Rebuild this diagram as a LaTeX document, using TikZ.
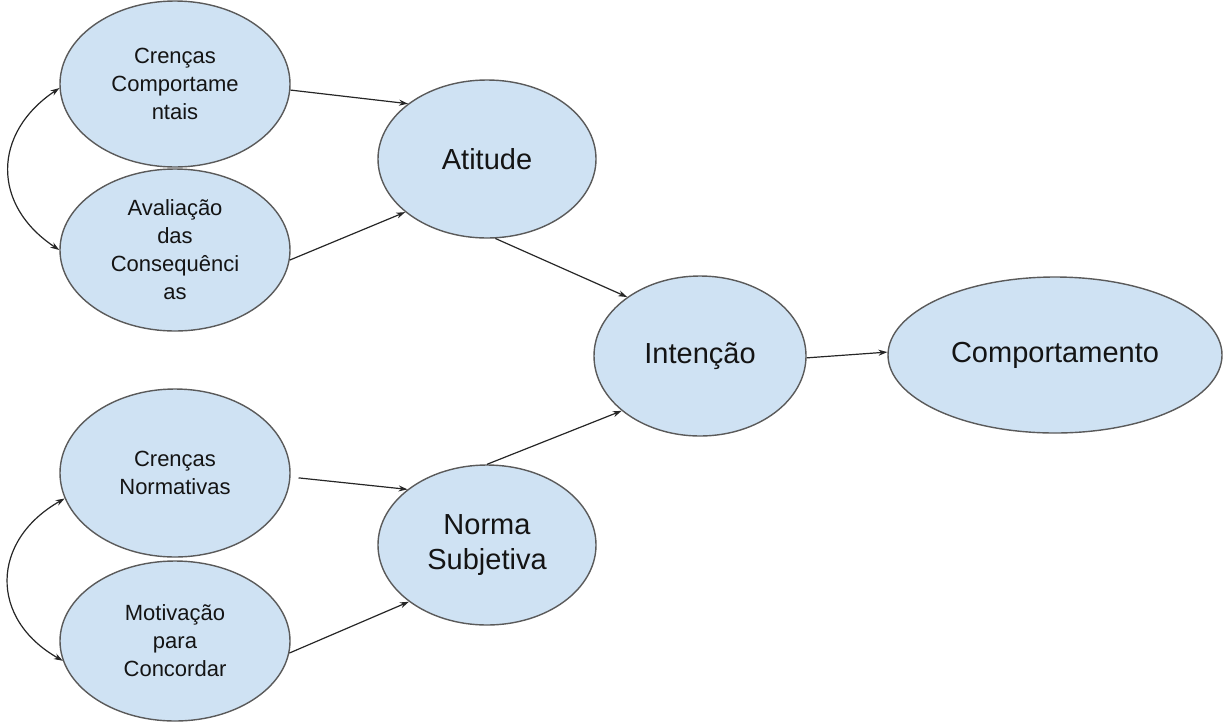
\documentclass[tikz,border=0pt]{standalone}
\usepackage{fontspec}
\setmainfont{Liberation Sans}
\usetikzlibrary{shapes.geometric,arrows.meta}
\definecolor{fillblue}{HTML}{CFE2F3}
\definecolor{edgegray}{HTML}{5A5A5A}
\definecolor{inkline}{HTML}{262626}
\begin{document}
\begin{tikzpicture}[x=1pt,y=-1pt,
  bubble/.style={ellipse, draw=edgegray, line width=1.4pt, fill=fillblue,
    inner sep=0pt, align=center, text=black!92},
  small/.style={bubble, font=\fontsize{22}{28}\selectfont},
  big/.style={bubble, font=\fontsize{29}{35}\selectfont},
  link/.style={draw=inkline, line width=1.2pt, -{Stealth[length=9pt,width=6pt]}},
  twoway/.style={draw=inkline, line width=1.2pt,
    {Stealth[length=9pt,width=6pt]}-{Stealth[length=9pt,width=6pt]}}
]
\useasboundingbox (0,0) rectangle (1225,721);

% belief and evaluation components
\node[small, minimum width=230pt, minimum height=166pt] (cc) at (175,84)
  {Crenças\\Comportame\\ntais};
\node[small, minimum width=230pt, minimum height=162pt] (ac) at (175,250)
  {Avaliação\\das\\Consequênci\\as};
\node[small, minimum width=230pt, minimum height=168pt] (cn) at (175,473)
  {Crenças\\Normativas};
\node[small, minimum width=230pt, minimum height=160pt] (mc) at (175,641)
  {Motivação\\para\\Concordar};

% constructs
\node[big, minimum width=218pt, minimum height=158pt] (at) at (487,159) {Atitude};
\node[big, minimum width=218pt, minimum height=160pt] (ns) at (487,545) {Norma\\Subjetiva};
\node[big, minimum width=212pt, minimum height=160pt] (in) at (700,356) {Intenção};
\node[big, minimum width=334pt, minimum height=156pt] (co) at (1055,355) {Comportamento};

% influences
\draw[link] (cc.-3) -- (at.145);
\draw[link] (ac.-5) -- (at.-147);
\draw[link] (at.-84) -- (in.141);
\draw[link] (ns.90) -- (in.-145);
\draw[link] (in.-1) -- (co.179);
\draw[link, shorten <=8pt] (cn.-2) -- (ns.145);
\draw[link] (mc.-6) -- (ns.-144);

% correlations between the antecedents
\draw[twoway] (cc.182) .. controls +(-67,45) and +(-68,-45) .. (ac.180);
\draw[twoway] (cn.193) .. controls +(-74,42) and +(-74,-42) .. (mc.190);
\end{tikzpicture}
\end{document}
